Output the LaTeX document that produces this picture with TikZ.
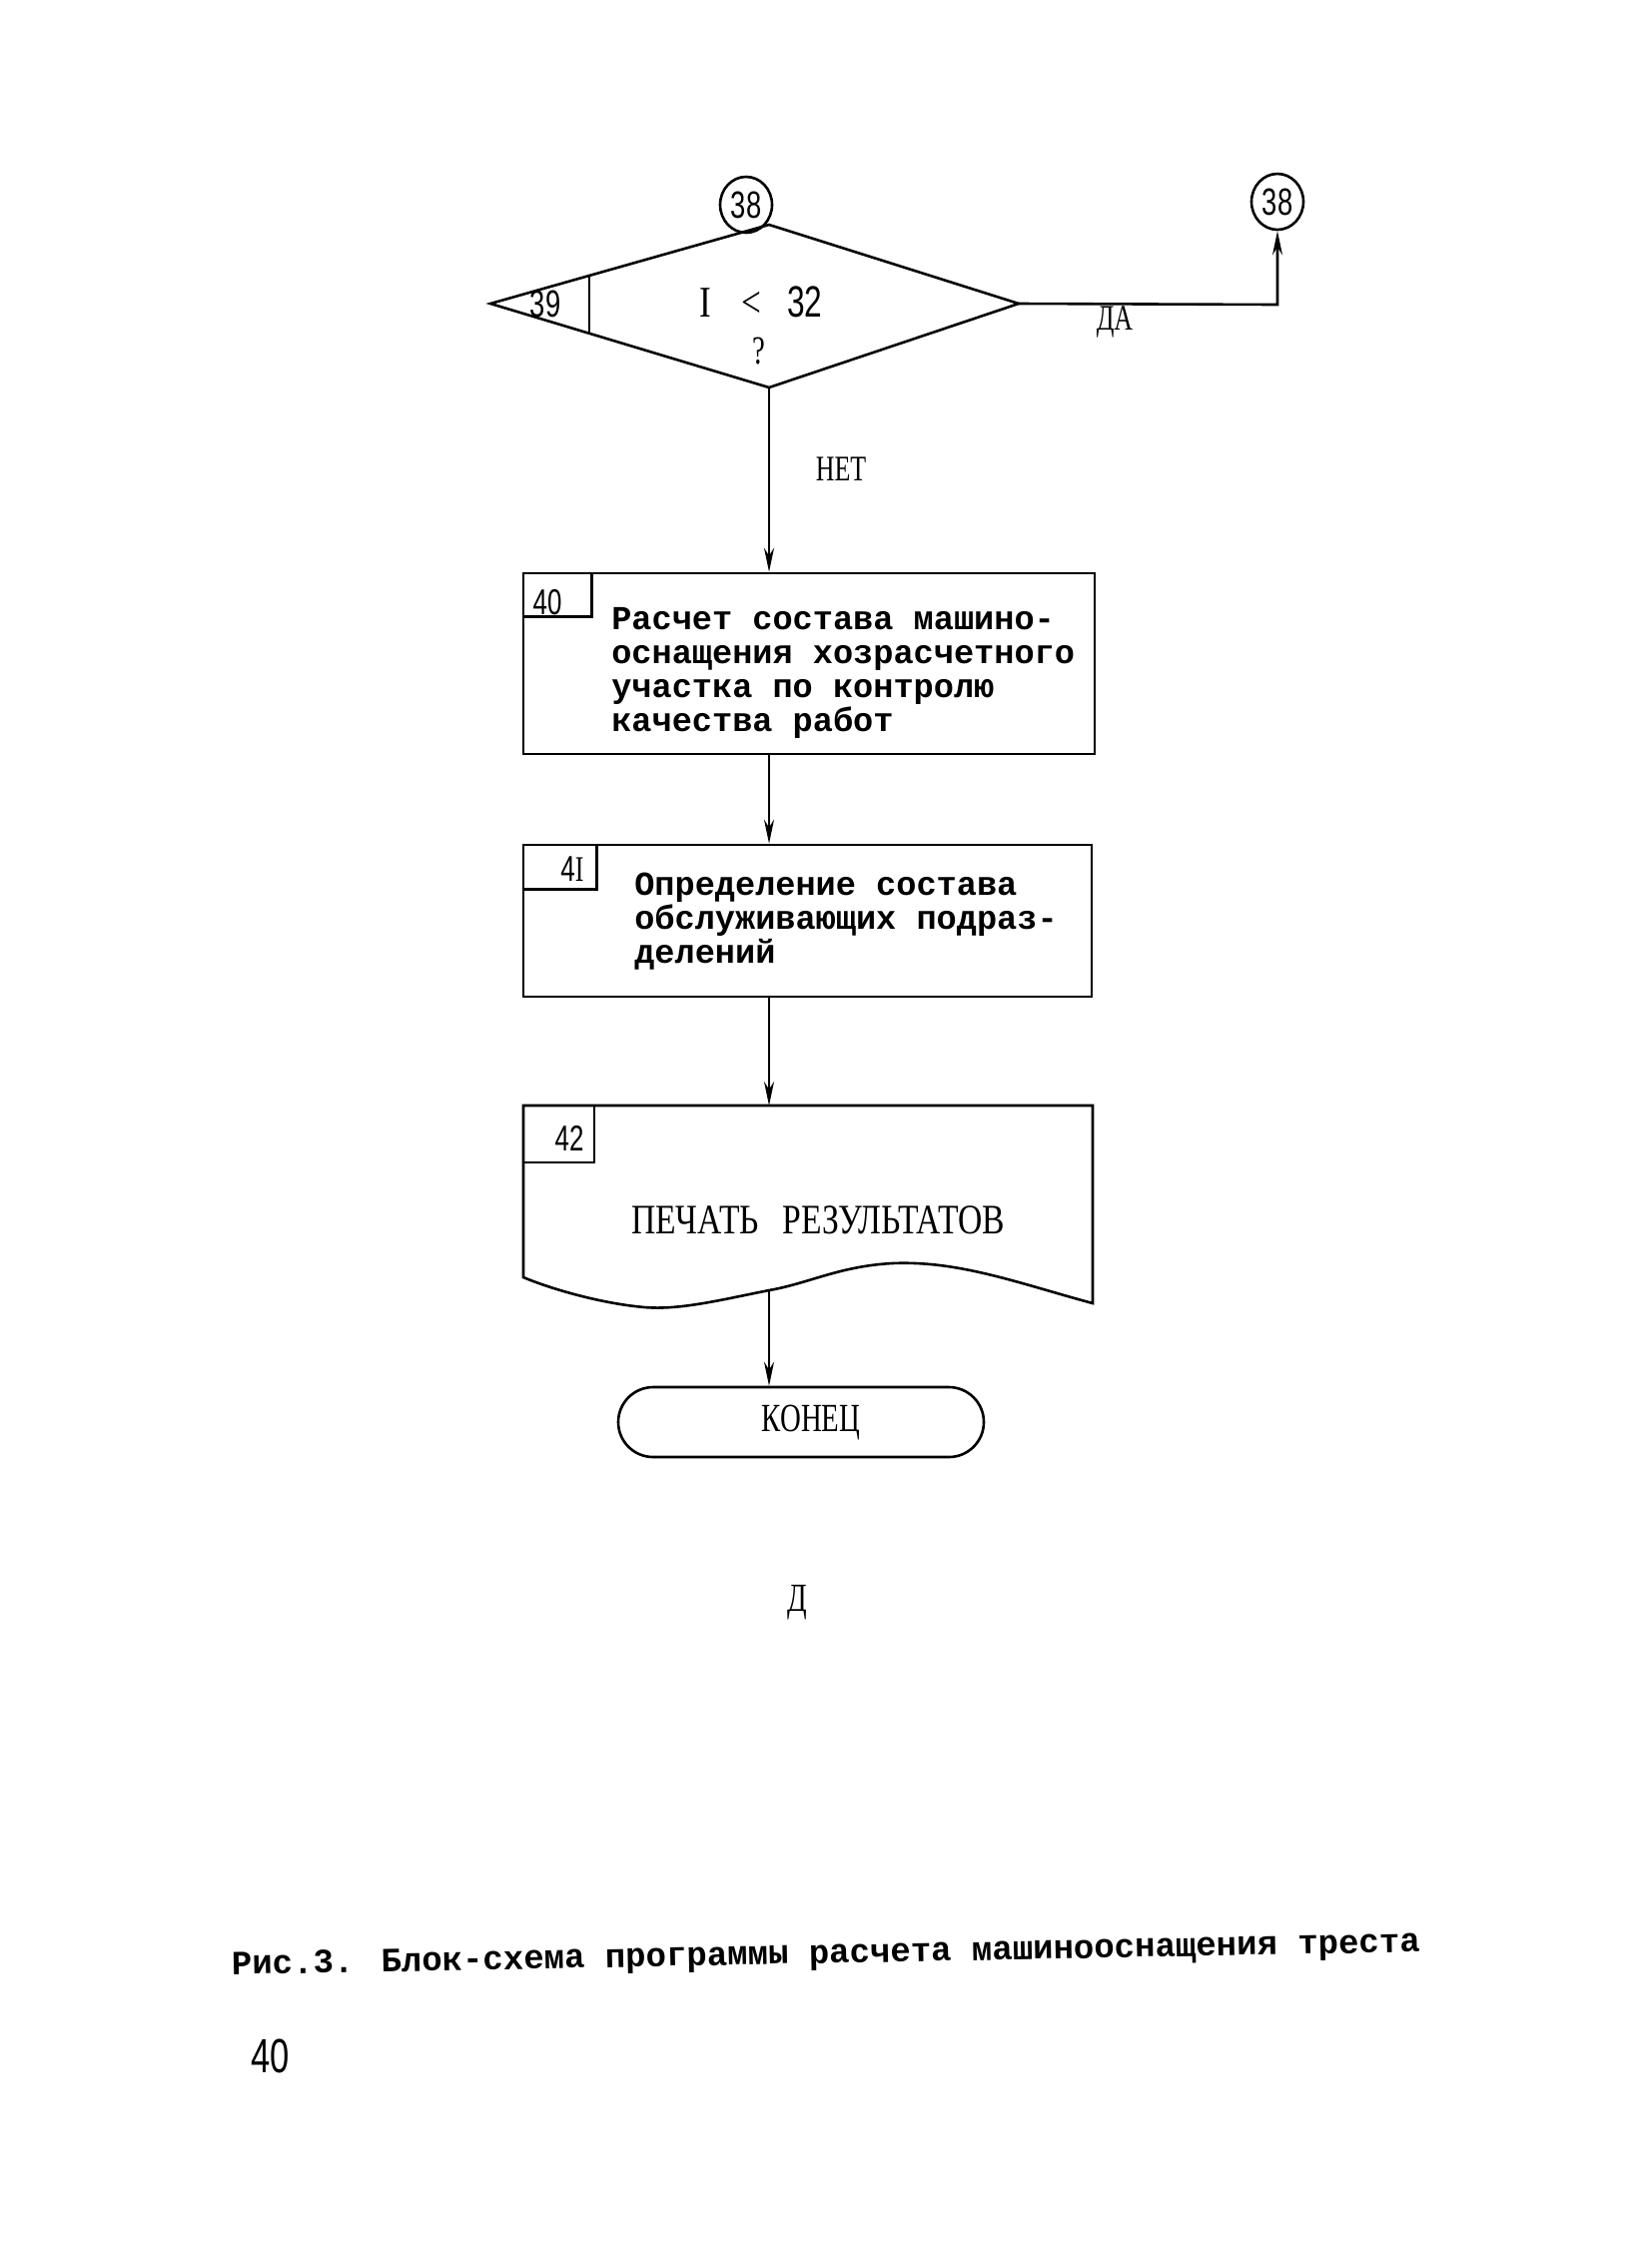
\documentclass[tikz,border=0pt]{standalone}
\usepackage{fontspec}
\setmainfont{Liberation Serif}
\newfontfamily\tmono{Liberation Mono}
\newfontfamily\nserif[FakeStretch=0.72]{Liberation Serif}
\newfontfamily\wserif[FakeStretch=0.8]{Liberation Serif}
\newfontfamily\nsans[FakeStretch=0.72]{Liberation Sans}
\usetikzlibrary{arrows.meta,shapes.geometric,calc}
\begin{document}
\begin{tikzpicture}[x=0.5pt,y=-0.5pt,
  line width=1.3pt,
  arr/.style={-{Stealth[length=12pt,width=5pt]}},
  box/.style={draw,rectangle,inner sep=0pt},
  conn/.style={draw,ellipse,minimum width=26pt,minimum height=28pt,inner sep=0pt,font=\nsans\fontsize{19}{19}\selectfont},
  num/.style={font=\nsans\fontsize{18}{18}\selectfont,inner sep=0pt},
  lbl/.style={font=\nserif\fontsize{18}{18}\selectfont,inner sep=0pt},
  big/.style={font=\nserif\fontsize{20}{20}\selectfont,inner sep=0pt},
  body/.style={font=\tmono\bfseries\fontsize{16.8}{17}\selectfont,align=left,inner sep=0pt,anchor=west},
]
\useasboundingbox (0,0) rectangle (1654,2245);

% decision 39
\coordinate (dL) at (491,304);
\coordinate (dT) at (770,225);
\coordinate (dR) at (1020,304);
\coordinate (dB) at (770,388);
\draw (dL) -- (dT) -- (dR) -- (dB) -- cycle;
\draw ($(dL)!0.355!(dT)$) -- ($(dL)!0.355!(dB)$);
\node[conn] (c38a) at (747,205) {38};
\node[conn] (c38b) at (1279,202) {38};
\node[num,font=\nsans\fontsize{19}{19}\selectfont] (n39) at (546,304) {39};
\node[inner sep=0pt,font=\wserif\fontsize{22}{22}\selectfont] (cond) at (762,302) {I\hspace{15pt}<\hspace{13pt}{\nsans 32}};
\node[big] (q) at (760,352) {?};

% yes branch
\coordinate (yesC) at (1279,305);
\draw[arr] (dR) -- (yesC) -- (c38b.south);
\node[lbl] (da) at (1116,322) {ДА};

% box 40
\node[box,minimum width=286pt,minimum height=90.5pt] (b40) at (810,664.5) {};
\draw ([yshift=-22.5pt]b40.north west) -| ([xshift=35pt]b40.north west);
\node[num] (n40) at (548,603) {40};
\node[body] (t40) at (611,674) {Расчет состава машино-\\оснащения хозрасчетного\\участка по контролю\\качества работ};

\draw[arr] (dB) -- (dB |- b40.north);
\node[lbl] (net) at (842,470) {НЕТ};

% box 41
\node[box,minimum width=284.5pt,minimum height=76pt] (b41) at (808.5,922) {};
\draw ([yshift=-23pt]b41.north west) -| ([xshift=37.5pt]b41.north west);
\node[num] (n41) at (573,870) {4{\nserif I}};
\node[body] (t41) at (634,923) {Определение состава\\обслуживающих подраз-\\делений};

\draw[arr] (dB |- b40.south) -- (dB |- b41.north);

% box 42 (document)
\coordinate (b42top) at (770,1107);
\coordinate (b42bot) at (770,1292);
\draw (524,1107) -- (1094,1107) -- (1094,1305)
  .. controls (1020,1285) and (960,1262) .. (893,1265)
  .. controls (840,1268) and (810,1285) .. (b42bot)
  .. controls (720,1302) and (680,1312) .. (645,1309)
  .. controls (600,1305) and (550,1290) .. (524,1279) -- cycle;
\draw (524,1164) -| (595,1107);
\node[num] (n42) at (570,1140) {42};
\node[inner sep=0pt,font=\wserif\fontsize{21}{21}\selectfont] (t42) at (819,1222) {ПЕЧАТЬ\hspace{12pt}РЕЗУЛЬТАТОВ};

\draw[arr] (dB |- b41.south) -- (b42top);

% terminal
\node[draw,rounded corners=17.5pt,minimum width=183pt,minimum height=35pt,big] (end) at (802,1424) {\hspace{10pt}КОНЕЦ};
\draw[arr] (b42bot) -- (b42bot |- end.north);

% footer texts
\node[big] (d) at (798,1605) {Д};
\node[font=\tmono\bfseries\fontsize{17}{17}\selectfont,inner sep=0pt,rotate=1.1] (cap) at (827,1958) {Рис.3. Блок-схема программы расчета машинооснащения треста};
\node[font=\nsans\fontsize{24}{24}\selectfont,inner sep=0pt] (page) at (271,2059) {40};
\end{tikzpicture}
\end{document}
